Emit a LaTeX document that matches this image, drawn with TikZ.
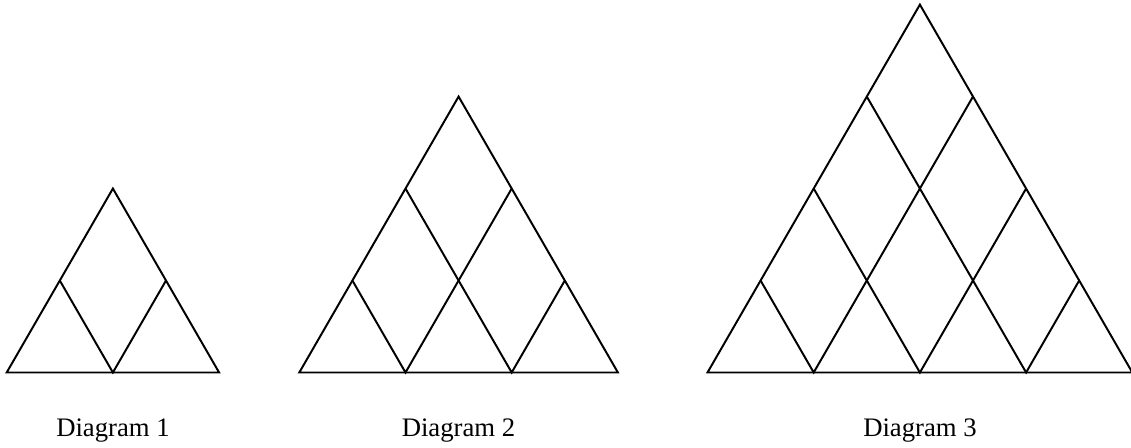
\documentclass[tikz,border=0pt]{standalone}
\usepackage{fontspec}
\setmainfont{Liberation Serif}

\tikzset{
  tri/.style={line width=1.4pt,line join=miter},
  caption/.style={anchor=base,font=\fontsize{19}{23}\selectfont}
}

\begin{document}
\begin{tikzpicture}
  \useasboundingbox (0,0) rectangle (28.275,11.2);

  % Diagram 1: side of two units.
  \begin{scope}[shift={(0.1675,1.8875)},x=2.655cm,y=2.655cm]
    \draw[tri] (0,0) -- (2,0) -- (1,1.732) -- cycle;
    \foreach \i in {1} {
      \draw[tri] ({\i/2},{\i*0.866}) -- (\i,0) -- ({\i+(2-\i)/2},{(2-\i)*0.866});
    }
  \end{scope}
  \node[caption] (capone) at (2.825,0.2825) {Diagram 1};

  % Diagram 2: side of three units.
  \begin{scope}[shift={(7.4825,1.8875)},x=2.655cm,y=2.655cm]
    \draw[tri] (0,0) -- (3,0) -- (1.5,2.598) -- cycle;
    \foreach \i in {1,2} {
      \draw[tri] ({\i/2},{\i*0.866}) -- (\i,0) -- ({\i+(3-\i)/2},{(3-\i)*0.866});
    }
  \end{scope}
  \node[caption] (captwo) at (11.4625,0.2825) {Diagram 2};

  % Diagram 3: side of four units.
  \begin{scope}[shift={(17.6875,1.8875)},x=2.655cm,y=2.655cm]
    \draw[tri] (0,0) -- (4,0) -- (2,3.464) -- cycle;
    \foreach \i in {1,2,3} {
      \draw[tri] ({\i/2},{\i*0.866}) -- (\i,0) -- ({\i+(4-\i)/2},{(4-\i)*0.866});
    }
  \end{scope}
  \node[caption] (capthree) at (23.0,0.2825) {Diagram 3};
\end{tikzpicture}
\end{document}
